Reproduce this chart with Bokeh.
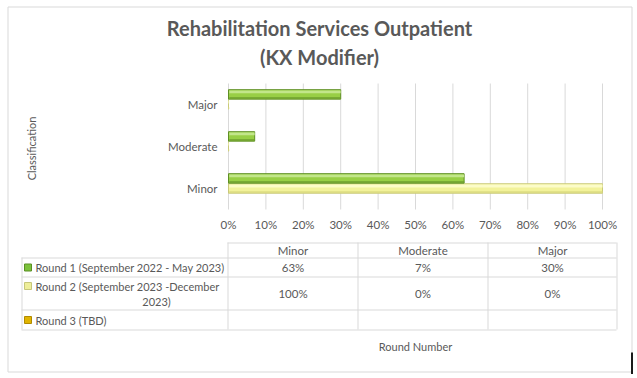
import math
from bokeh.plotting import figure
from bokeh.models import Range1d, ColumnDataSource
from bokeh.transform import dodge
from bokeh.core.properties import value
from bokeh.embed import file_html
from bokeh.resources import INLINE

# ---------------- data ----------------
categories = ["Minor", "Moderate", "Major"]
round_names = ["Round 1 (September 2022 - May 2023)",
               "Round 2 (September 2023 -December 2023)",
               "Round 3 (TBD)"]
round1 = [0.63, 0.07, 0.30]
round2 = [1.00, 0.00, 0.00]
round3 = [None, None, None]
x_ticks = [0, 0.1, 0.2, 0.3, 0.4, 0.5, 0.6, 0.7, 0.8, 0.9, 1.0]
x_tick_labels = ["0%", "10%", "20%", "30%", "40%", "50%", "60%", "70%", "80%", "90%", "100%"]
title_lines = ["Rehabilitation Services Outpatient", "(KX Modifier)"]
y_title = "Classification"
x_title = "Round Number"

FONT = "Lato"
TXT = "#595959"
GRID = "#d9d9d9"
W, H = 634, 374

# canvas figure: frame covers the whole canvas, pixel-like coordinates (y down)
p = figure(width=W, height=H, x_range=Range1d(0, W), y_range=Range1d(H, 0),
           output_backend="svg", toolbar_location=None, min_border=0)
p.axis.visible = False
p.grid.visible = False
p.outline_line_color = None
p.background_fill_color = "white"
p.border_fill_color = "white"

# plot-area placement of the bar chart (category slots 0..n on the value axis)
ncat = len(categories)
cat_pos = [i + 0.5 for i in range(ncat)]
pct_src, pct_tgt = Range1d(0, 1), Range1d(228, 602)
cat_src, cat_tgt = Range1d(0, ncat), Range1d(209, 83)
idx_src, idx_tgt = Range1d(0, W), Range1d(0, W)
idy_src, idy_tgt = Range1d(0, H), Range1d(0, H)

bars = p.subplot(x_source=pct_src, y_source=cat_src, x_target=pct_tgt, y_target=cat_tgt)
xlab = p.subplot(x_source=pct_src, y_source=idy_src, x_target=pct_tgt, y_target=idy_tgt)
ylab = p.subplot(x_source=idx_src, y_source=cat_src, x_target=idx_tgt, y_target=cat_tgt)

# outer border
p.rect(x=[319.5], y=[139 / 1 + 0.0 + 50], width=624, height=365,
       fill_color=None, line_color=GRID, line_width=1)
p.segment(x0=[631.5], x1=[631.5], y0=[352], y1=[374], line_color="#1a1a1a", line_width=2)

# title
p.text(x=[319, 319], y=[27, 56], text=title_lines, text_align="center",
       text_baseline="middle", text_font=value(FONT), text_font_size="20px",
       text_font_style="bold", text_color=TXT)

# vertical gridlines
xlab.segment(x0=x_ticks, x1=x_ticks, y0=[83] * len(x_ticks), y1=[209] * len(x_ticks),
             line_color=GRID, line_width=1)

# bars
src = ColumnDataSource(dict(pos=cat_pos, r1=round1, r2=round2))
off1, off2, h = 0.24, 0.0, 0.225
bars.hbar(y=dodge("pos", off2), left=0, right="r2", height=h,
          source=src, fill_color="#f2f29a", line_color="#c9c97a", line_width=1)
bars.hbar(y=dodge("pos", off2 + 0.06), left=0.002, right="r2",
          height=0.07, source=src, fill_color="#fcfcc8", line_color=None)
bars.hbar(y=dodge("pos", off2 - 0.085), left=0.002, right="r2",
          height=0.04, source=src, fill_color="#dcdc82", line_color=None)
bars.hbar(y=dodge("pos", off1), left=0, right="r1", height=h,
          source=src, fill_color="#98cf45", line_color="#5f8f24", line_width=1)
bars.hbar(y=dodge("pos", off1 + 0.06), left=0.002, right="r1",
          height=0.07, source=src, fill_color="#c2e68a", line_color=None)
bars.hbar(y=dodge("pos", off1 - 0.085), left=0.002, right="r1",
          height=0.04, source=src, fill_color="#6e9f2e", line_color=None)

# axis labels
xlab.text(x=x_ticks, y=[224] * len(x_ticks), text=x_tick_labels, text_align="center",
          text_baseline="middle", text_font=value(FONT), text_font_size="11.5px",
          text_color=TXT)
ylab.text(x=[217] * ncat, y=cat_pos, text=categories, text_align="right",
          text_baseline="middle", text_font=value(FONT), text_font_size="11.5px",
          text_color=TXT)
p.text(x=[31], y=[148], text=[y_title], angle=math.pi / 2, text_align="center",
       text_baseline="middle", text_font=value(FONT), text_font_size="11px",
       text_color=TXT)

# ---------------- data table ----------------
col_x = [21, 227, 357, 487, 616]
row_y = [242, 257, 276, 309, 329]
p.segment(x0=[227] + [21] * 4, x1=[616] * 5, y0=[y + 0.5 for y in row_y],
          y1=[y + 0.5 for y in row_y], line_color=GRID, line_width=1)
p.segment(x0=[x + 0.5 for x in col_x], x1=[x + 0.5 for x in col_x],
          y0=[257] + [242] * 4, y1=[329] * 5, line_color=GRID, line_width=1)

col_c = [(col_x[i] + col_x[i + 1]) / 2 + 0.5 for i in range(1, 4)]
row_c = [(row_y[i] + row_y[i + 1]) / 2 + 0.5 for i in range(4)]
p.text(x=col_c, y=[row_c[0]] * 3, text=categories, text_align="center",
       text_baseline="middle", text_font=value(FONT), text_font_size="11.5px",
       text_color=TXT)


def pct(v):
    return "" if v is None else f"{round(v * 100)}%"


for ri, series in enumerate([round1, round2, round3]):
    p.text(x=col_c, y=[row_c[ri + 1]] * 3, text=[pct(v) for v in series],
           text_align="center", text_baseline="middle", text_font=value(FONT),
           text_font_size="11.5px", text_color=TXT)

key_fill = ["#7cc23a", "#eeee9a", "#e0b400"]
key_line = ["#5a8f24", "#c6c67a", "#b08a00"]
key_y = [row_c[1], row_c[2] - 7.5, row_c[3]]
p.rect(x=[27.5] * 3, y=key_y, width=7, height=7, fill_color=key_fill, line_color=key_line)
r2_words = round_names[1].rsplit(" ", 1)
p.text(x=[35, 35, 35], y=key_y, text=[round_names[0], r2_words[0], round_names[2]],
       text_baseline="middle", text_font=value(FONT), text_font_size="11px",
       text_color=TXT)
p.text(x=[156], y=[row_c[2] + 7.5], text=[r2_words[1]], text_align="center",
       text_baseline="middle", text_font=value(FONT), text_font_size="11px",
       text_color=TXT)
p.text(x=[415], y=[346], text=[x_title], text_align="center",
       text_baseline="middle", text_font=value(FONT), text_font_size="11px",
       text_color=TXT)

open("out.html", "w").write(file_html(p, INLINE))
